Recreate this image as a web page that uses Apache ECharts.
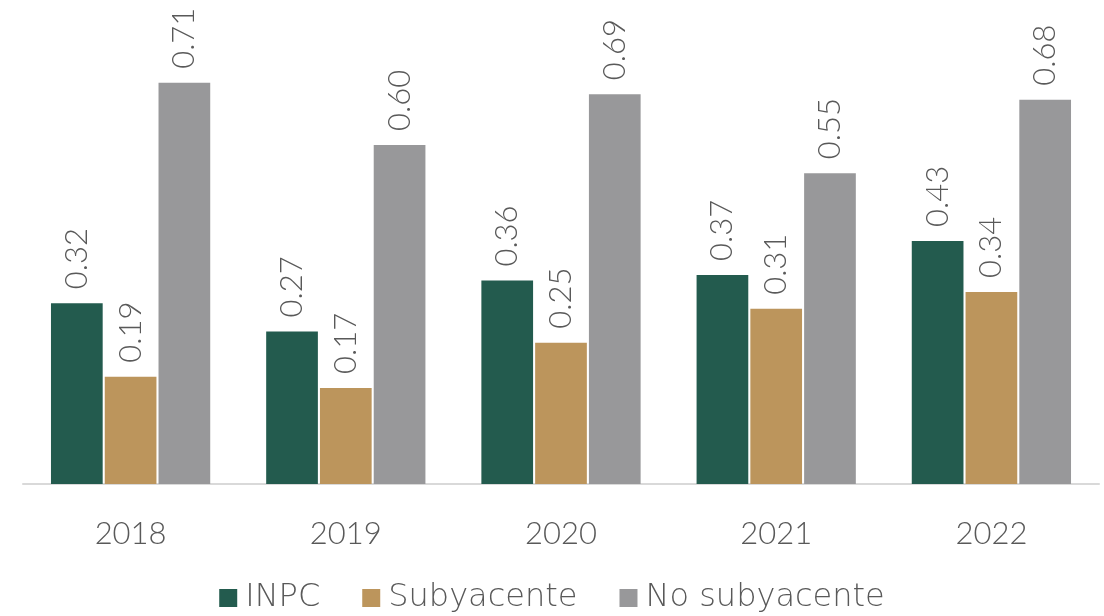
<!DOCTYPE html>
<html>
<head>
<meta charset="utf-8">
<script src="https://cdn.jsdelivr.net/npm/echarts@6/dist/echarts.min.js"></script>
<style>html,body{margin:0;padding:0;background:#fff;}#chart{width:1104px;height:616px;}</style>
</head>
<body>
<div id="chart"></div>
<script>
const categories = ['2018', '2019', '2020', '2021', '2022'];
const seriesNames = ['INPC', 'Subyacente', 'No subyacente'];
const inpc = [0.32, 0.27, 0.36, 0.37, 0.43];
const subyacente = [0.19, 0.17, 0.25, 0.31, 0.34];
const noSubyacente = [0.71, 0.60, 0.69, 0.55, 0.68];
const colors = ['#235B4E', '#BC955C', '#98989A'];

const FONT = 'Lato';
const TEXT = '#595959';
const chart = echarts.init(document.getElementById('chart'));
const mk = (name, data, color) => ({
  name, type: 'bar', data,
  barGap: '4%', barCategoryGap: '26%',
  itemStyle: { color },
  label: {
    show: true, position: 'top', rotate: 90, distance: 14,
    align: 'left', verticalAlign: 'middle',
    formatter: p => p.value.toFixed(2),
    fontFamily: FONT, fontSize: 31, color: TEXT, fontWeight: 300
  }
});
chart.setOption({
  animation: false,
  textStyle: { fontFamily: FONT },
  grid: { left: 23, right: 5, top: 32, bottom: 132, containLabel: false },
  legend: {
    data: seriesNames, bottom: -3, left: 'center',
    icon: 'rect', itemWidth: 18, itemHeight: 18, itemGap: 42,
    textStyle: { fontFamily: 'DejaVu Sans', fontSize: 32, color: TEXT, fontWeight: 200, padding: [0, 0, 0, 3] }
  },
  xAxis: {
    type: 'category', data: categories,
    axisLine: { lineStyle: { color: '#D9D9D9', width: 2 } },
    axisTick: { show: false },
    axisLabel: { fontFamily: FONT, fontSize: 31, color: TEXT, margin: 34, fontWeight: 300 }
  },
  yAxis: { type: 'value', min: 0, max: 0.8, show: false, splitLine: { show: false } },
  series: [mk(seriesNames[0], inpc, colors[0]), mk(seriesNames[1], subyacente, colors[1]), mk(seriesNames[2], noSubyacente, colors[2])]
});
</script>
</body>
</html>
